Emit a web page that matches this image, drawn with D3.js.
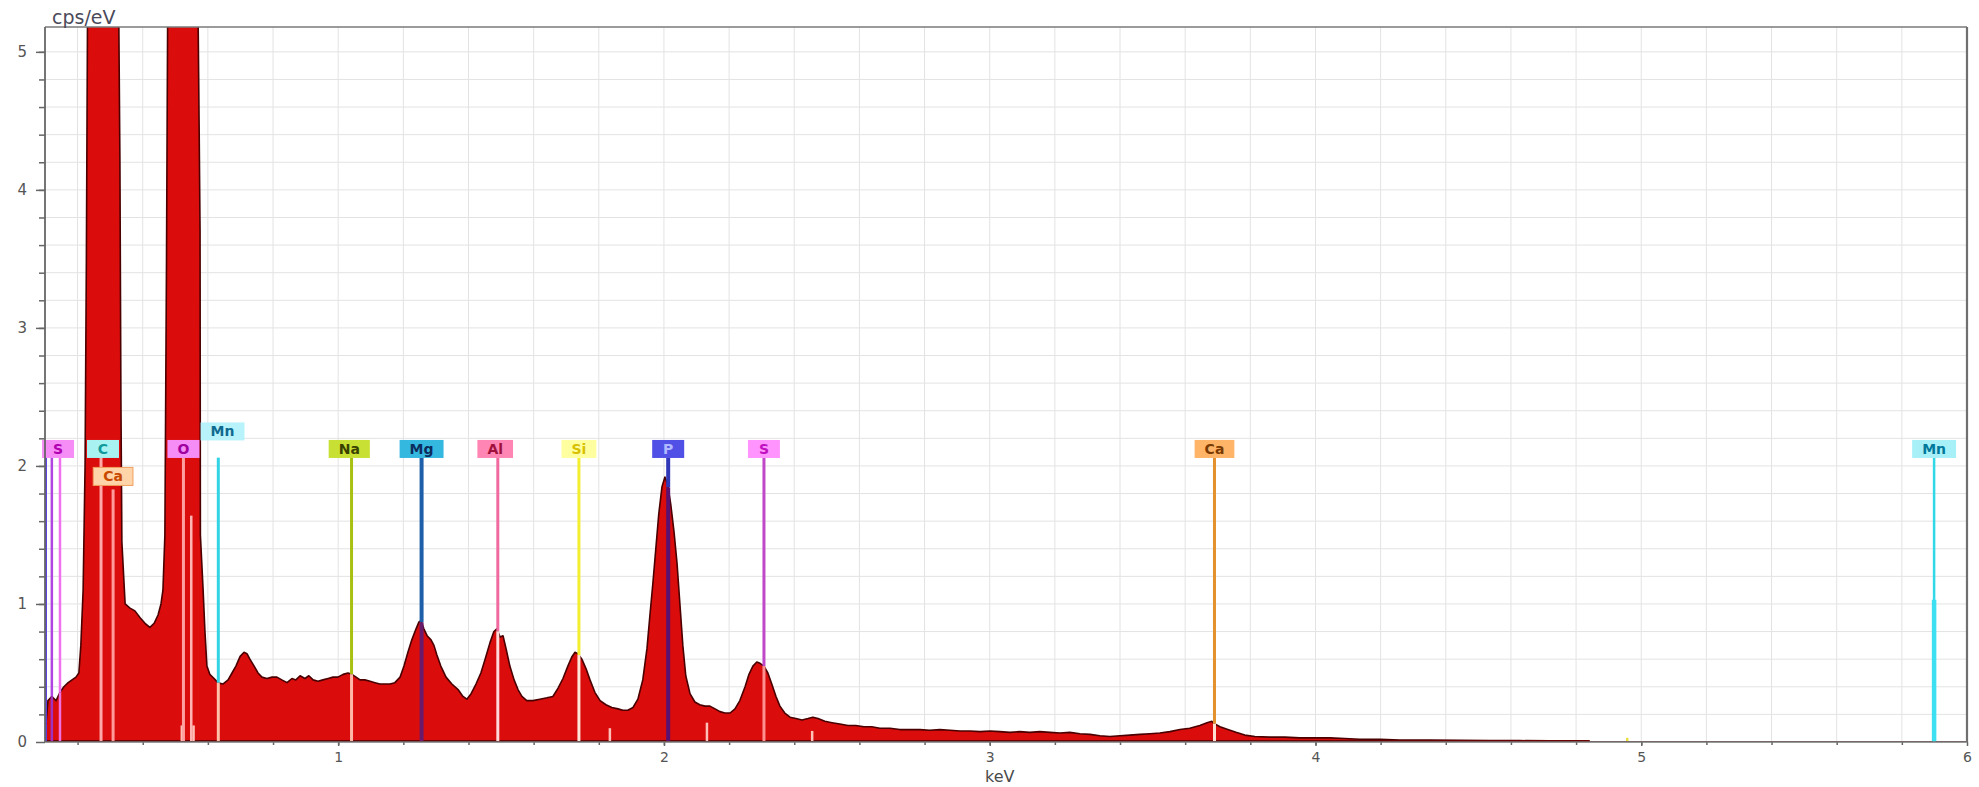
<!DOCTYPE html>
<html><head><meta charset="utf-8">
<script src="https://cdn.jsdelivr.net/npm/d3@7"></script>
<style>body{margin:0;background:#fff;} svg{display:block;}</style>
</head><body><svg id="chart" width="1979" height="787"></svg>
<script>
// ---- DATA ----
const energy = [0.100,0.109,0.121,0.134,0.146,0.158,0.171,0.183,0.195,0.204,0.210,0.217,0.223,0.227,0.232,0.253,0.278,0.306,0.324,0.330,0.333,0.336,0.346,0.361,0.376,0.392,0.407,0.422,0.435,0.447,0.456,0.462,0.468,0.473,0.478,0.499,0.524,0.545,0.567,0.573,0.576,0.577,0.585,0.591,0.597,0.606,0.619,0.631,0.646,0.662,0.674,0.686,0.699,0.711,0.720,0.729,0.742,0.754,0.766,0.781,0.797,0.812,0.827,0.843,0.858,0.870,0.883,0.898,0.910,0.923,0.938,0.953,0.969,0.984,0.999,1.015,1.030,1.042,1.055,1.067,1.082,1.098,1.113,1.128,1.144,1.159,1.174,1.190,1.202,1.214,1.226,1.239,1.248,1.254,1.263,1.273,1.285,1.294,1.303,1.315,1.331,1.349,1.368,1.383,1.395,1.408,1.423,1.438,1.451,1.466,1.478,1.487,1.497,1.506,1.515,1.527,1.540,1.552,1.564,1.579,1.598,1.619,1.641,1.659,1.675,1.690,1.705,1.718,1.727,1.736,1.748,1.761,1.773,1.788,1.804,1.822,1.840,1.859,1.874,1.889,1.905,1.920,1.935,1.948,1.957,1.966,1.975,1.984,1.994,2.003,2.012,2.021,2.031,2.040,2.049,2.058,2.067,2.080,2.095,2.110,2.126,2.141,2.157,2.172,2.187,2.203,2.218,2.233,2.249,2.261,2.273,2.285,2.295,2.307,2.319,2.331,2.344,2.356,2.371,2.387,2.405,2.424,2.442,2.457,2.473,2.494,2.516,2.540,2.565,2.589,2.614,2.638,2.663,2.694,2.724,2.755,2.786,2.816,2.847,2.878,2.909,2.939,2.970,3.001,3.031,3.062,3.093,3.123,3.154,3.185,3.216,3.246,3.277,3.308,3.338,3.369,3.400,3.430,3.461,3.492,3.522,3.553,3.584,3.614,3.645,3.667,3.682,3.691,3.707,3.731,3.756,3.783,3.814,3.860,3.906,3.952,3.998,4.044,4.090,4.136,4.198,4.259,4.351,4.443,4.535,4.627,4.719,4.780,4.842,6.000];
const counts = [0.05,0.30,0.33,0.30,0.36,0.40,0.43,0.45,0.47,0.50,0.70,1.10,2.00,3.50,6.0,9.0,10.0,9.0,6.0,4.2,2.5,1.45,1.00,0.97,0.95,0.90,0.86,0.83,0.86,0.92,1.00,1.10,1.50,3.50,6.0,10,11,10,6.0,4.5,3.7,1.5,1.12,0.80,0.55,0.49,0.46,0.43,0.42,0.45,0.50,0.55,0.62,0.65,0.64,0.60,0.55,0.50,0.47,0.46,0.47,0.47,0.45,0.43,0.46,0.45,0.48,0.46,0.48,0.45,0.44,0.45,0.46,0.47,0.47,0.49,0.50,0.49,0.47,0.45,0.45,0.44,0.43,0.42,0.42,0.42,0.43,0.47,0.55,0.65,0.74,0.82,0.87,0.88,0.82,0.77,0.74,0.70,0.63,0.55,0.47,0.42,0.38,0.33,0.31,0.35,0.42,0.50,0.60,0.72,0.80,0.82,0.76,0.77,0.68,0.55,0.45,0.38,0.33,0.30,0.30,0.31,0.32,0.33,0.39,0.46,0.55,0.62,0.65,0.64,0.60,0.53,0.45,0.36,0.30,0.27,0.25,0.24,0.23,0.23,0.25,0.31,0.45,0.68,0.92,1.15,1.40,1.65,1.85,1.92,1.86,1.72,1.52,1.30,1.00,0.70,0.48,0.35,0.29,0.27,0.26,0.26,0.24,0.22,0.21,0.21,0.24,0.30,0.40,0.49,0.55,0.58,0.57,0.55,0.50,0.42,0.33,0.26,0.21,0.18,0.17,0.16,0.17,0.18,0.17,0.15,0.14,0.13,0.12,0.12,0.11,0.11,0.10,0.10,0.09,0.09,0.09,0.085,0.09,0.085,0.08,0.08,0.075,0.08,0.075,0.07,0.075,0.07,0.075,0.07,0.065,0.07,0.06,0.055,0.045,0.04,0.045,0.05,0.055,0.06,0.065,0.075,0.09,0.10,0.12,0.14,0.15,0.13,0.11,0.09,0.07,0.05,0.04,0.035,0.035,0.03,0.03,0.03,0.025,0.02,0.02,0.015,0.015,0.012,0.01,0.01,0.008,0.004,0,0];

const yTickValues = [0,1,2,3,4,5];
const xTickValues = [1,2,3,4,5,6];

// element marker lines (keV) and the level (cps/eV) where each line starts
const lineElements = ["S","S","S","C","Ca","O","Mn","Mn","Na","Mg","Al","Si","P","S","Ca","Mn"];
const lineEnergies = [0.103,0.121,0.146,0.272,0.309,0.525,0.549,0.632,1.041,1.256,1.490,1.739,2.013,2.307,3.690,5.899];
const lineTops     = [2.06,2.06,2.06,2.06,1.83,2.06,1.64,2.06,2.06,2.06,2.06,2.06,2.06,2.06,2.06,2.06];

// element labels
const labelTexts    = ["S","C","Ca","O","Mn","Na","Mg","Al","Si","P","S","Ca","Mn"];
const labelEnergies = [0.140,0.278,0.309,0.525,0.645,1.034,1.256,1.482,1.739,2.013,2.307,3.690,5.899];
const labelLevels   = [2.123,2.123,1.924,2.123,2.25,2.123,2.123,2.123,2.123,2.123,2.123,2.123,2.123];

// small unlabelled markers near the baseline
const minorEnergies = [0.520,0.556,1.834,2.132,2.455,4.957];
const minorHeights  = [0.12,0.12,0.10,0.14,0.08,0.03];

// ---- STYLES ----
const lineStyles = [
  {above:"#5a3fe0", inside:"#5a3fe0", w:2},
  {above:"#b045e0", inside:"#a030c0", w:2.5},
  {above:"#f070f0", inside:"#f070e0", w:2.5},
  {above:"#ffa8a8", inside:"#ffa8a8", w:3},
  {above:"#ff9a9a", inside:"#ff9a9a", w:3},
  {above:"#ffa0a0", inside:"#ffa0a0", w:3},
  {above:"#ffb4b4", inside:"#ffb4b4", w:2.5},
  {above:"#30d4e4", inside:"#ffc0a8", w:3},
  {above:"#a8c010", inside:"#ffb8a8", w:3},
  {above:"#1d5fa8", inside:"#6a1a6a", w:4},
  {above:"#f06aa0", inside:"#ffd8d8", w:3},
  {above:"#f4ee30", inside:"#ffe4d8", w:3},
  {above:"#3038b8", inside:"#5a1070", w:4},
  {above:"#c048c8", inside:"#ff9090", w:3},
  {above:"#e4902c", inside:"#ffe0d0", w:3},
  {above:"#30d8e8", inside:"#30d8e8", w:2.5, thickFrom:1.03}
];
const labelStyles = [
  {bg:"#f68cf6", fg:"#b000b0"},
  {bg:"#a8f2f2", fg:"#109a9a"},
  {bg:"#ffd4a8", fg:"#c84800", stroke:"#f0a060"},
  {bg:"#f68cf6", fg:"#a000a0"},
  {bg:"#b8f2fa", fg:"#106a90"},
  {bg:"#c8e034", fg:"#3a4200"},
  {bg:"#34b8e0", fg:"#0c2c60"},
  {bg:"#ff86b4", fg:"#a0103c"},
  {bg:"#ffffa0", fg:"#d8c000"},
  {bg:"#5050e6", fg:"#b0b8ff"},
  {bg:"#ff94ff", fg:"#c010c0"},
  {bg:"#ffb468", fg:"#7a3a00"},
  {bg:"#a8f0f8", fg:"#00789c"}
];

// ---- CHART ----
const svg = d3.select("#chart");
const L = 45, R = 1967, T = 27, B = 742;
const x = d3.scaleLinear().domain([0.1, 6]).range([L, R]);
const y = d3.scaleLinear().domain([0, 5.18]).range([B, T]);

svg.append("defs").append("clipPath").attr("id","plotclip")
  .append("rect").attr("x",L).attr("y",T).attr("width",R-L).attr("height",B-T);

// grid
const gx = d3.range(1,30).map(i => +(i*0.2).toFixed(1));
const gy = d3.range(1,26).map(i => +(i*0.2).toFixed(1));
const grid = svg.append("g").attr("stroke","#e3e3e3").attr("stroke-width",1);
grid.selectAll("line.v").data(gx).join("line").attr("class","v")
  .attr("x1",d=>x(d)).attr("x2",d=>x(d)).attr("y1",T).attr("y2",B);
grid.selectAll("line.h").data(gy).join("line").attr("class","h")
  .attr("x1",L).attr("x2",R).attr("y1",d=>y(d)).attr("y2",d=>y(d));

// spectrum
const spec = energy.map((e,i)=>[e, counts[i]]);
const area = d3.area().x(d=>x(d[0])).y0(y(0)).y1(d=>y(d[1]));
const line = d3.line().x(d=>x(d[0])).y(d=>y(d[1]));
const plot = svg.append("g").attr("clip-path","url(#plotclip)");
plot.append("path").datum(spec).attr("d",area).attr("fill","#db0c0c");
plot.append("path").datum(spec).attr("d",line).attr("fill","none")
  .attr("stroke","#4a0000").attr("stroke-width",1.6).attr("stroke-linejoin","round");
plot.append("line").attr("x1",x(0.1)).attr("x2",x(4.842)).attr("y1",B-1).attr("y2",B-1)
  .attr("stroke","#6a0000").attr("stroke-width",2);

// interpolate spectrum at an energy
const bis = d3.bisector(d=>d).left;
function specAt(e){
  let i = bis(energy, e);
  if (i<=0) return counts[0];
  if (i>=energy.length) return 0;
  const e0=energy[i-1], e1=energy[i], c0=counts[i-1], c1=counts[i];
  return c0 + (c1-c0)*(e-e0)/(e1-e0);
}

// minor markers
plot.selectAll("line.minor").data(minorEnergies).join("line").attr("class","minor")
  .attr("x1",d=>x(d)).attr("x2",d=>x(d))
  .attr("y1",(d,i)=>y(minorHeights[i])).attr("y2",B-1)
  .attr("stroke",(d,i)=> i===5 ? "#e8e040" : "#ffc0b8").attr("stroke-width",2.5);

// marker lines
const mk = plot.append("g");
lineEnergies.forEach((e,i)=>{
  const st = lineStyles[i];
  const yt = y(lineTops[i]);
  const ys = Math.max(y(Math.min(specAt(e), 5.18)), yt);
  const xe = x(e);
  if (ys > yt) mk.append("line").attr("x1",xe).attr("x2",xe).attr("y1",yt).attr("y2",ys)
      .attr("stroke",st.above).attr("stroke-width",st.w);
  mk.append("line").attr("x1",xe).attr("x2",xe).attr("y1",ys).attr("y2",B-1)
      .attr("stroke",st.inside).attr("stroke-width",st.w);
  if (st.thickFrom !== undefined) {
    mk.append("line").attr("x1",xe).attr("x2",xe).attr("y1",y(st.thickFrom)).attr("y2",B-1)
      .attr("stroke","#3ce0f0").attr("stroke-width",4.5);
  }
});

// labels
const lab = svg.append("g").attr("font-family","DejaVu Sans, sans-serif")
  .attr("font-weight","bold").attr("font-size",14);
labelTexts.forEach((t,i)=>{
  const st = labelStyles[i];
  const cx = x(labelEnergies[i]), cy = y(labelLevels[i]);
  const g = lab.append("g");
  const r = g.append("rect");
  const tx = g.append("text").attr("x",cx).attr("y",cy).attr("text-anchor","middle")
    .attr("dominant-baseline","central").attr("fill",st.fg).text(t);
  const tw = tx.node().getComputedTextLength();
  const w = Math.max(32, tw + 20);
  r.attr("x",cx-w/2).attr("y",cy-9).attr("width",w).attr("height",18).attr("fill",st.bg)
   .attr("stroke",st.stroke||"none").attr("stroke-width",1);
});

// axes
const axFont = "DejaVu Sans, sans-serif";
const yMinor = svg.append("g").attr("transform",`translate(${L},0)`)
  .call(d3.axisLeft(y).tickValues(gy).tickSize(6).tickFormat(""));
const yMajor = svg.append("g").attr("transform",`translate(${L},0)`)
  .call(d3.axisLeft(y).tickValues(yTickValues).tickSize(9).tickPadding(9).tickFormat(d3.format("d")));
const xMinor = svg.append("g").attr("transform",`translate(0,${B})`)
  .call(d3.axisBottom(x).tickValues(gx).tickSize(3).tickFormat(""));
const xMajor = svg.append("g").attr("transform",`translate(0,${B})`)
  .call(d3.axisBottom(x).tickValues(xTickValues).tickSize(4).tickPadding(6).tickFormat(d3.format("d")));
[yMinor,yMajor,xMinor,xMajor].forEach(a=>{
  a.select(".domain").remove();
  a.selectAll(".tick line").attr("stroke","#666").attr("stroke-width",1.5);
  a.selectAll(".tick text").attr("fill","#555").attr("font-family",axFont).attr("font-size",15);
});
xMajor.selectAll(".tick text").attr("font-size",14);

// frame
const fr = svg.append("g").attr("fill","none");
fr.append("line").attr("x1",L).attr("x2",R).attr("y1",T).attr("y2",T).attr("stroke","#7a7a7a").attr("stroke-width",1.6);
fr.append("line").attr("x1",R).attr("x2",R).attr("y1",T).attr("y2",B).attr("stroke","#707070").attr("stroke-width",2.2);
fr.append("line").attr("x1",L).attr("x2",L).attr("y1",T).attr("y2",B).attr("stroke","#666").attr("stroke-width",1.8);
fr.append("line").attr("x1",L).attr("x2",R).attr("y1",B).attr("y2",B).attr("stroke","#777").attr("stroke-width",1.6);

// axis titles
svg.append("text").attr("x",52).attr("y",24).attr("font-family",axFont).attr("font-size",19)
  .attr("fill","#4a4a5a").text("cps/eV");
svg.append("text").attr("x",985).attr("y",782).attr("font-family",axFont).attr("font-size",16)
  .attr("fill","#4a4a4a").text("keV");
</script>
</body></html>
